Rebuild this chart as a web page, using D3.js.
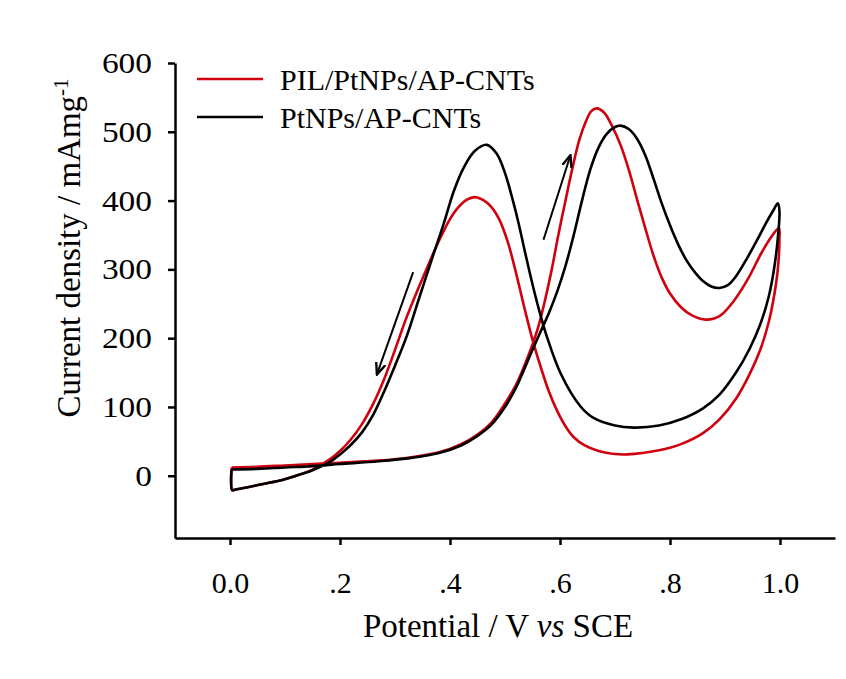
<!DOCTYPE html>
<html>
<head>
<meta charset="utf-8">
<script src="https://cdn.jsdelivr.net/npm/d3@7"></script>
<style>
body { margin: 0; background: #fff; }
text { font-family: "Liberation Serif", "Times New Roman", serif; fill: #000; }
</style>
</head>
<body>
<script>
var width = 846;
var height = 679;

var seriesNames = ["PIL/PtNPs/AP-CNTs", "PtNPs/AP-CNTs"];
var seriesColors = ["#d0000f", "#000000"];

// PIL/PtNPs/AP-CNTs : forward scan then reverse scan (potential, current density)
var pilE = [0.003, 0.05, 0.10, 0.15, 0.20, 0.27, 0.33, 0.38, 0.42, 0.45, 0.475, 0.50, 0.52, 0.545, 0.56, 0.573, 0.585, 0.597, 0.61, 0.622, 0.635, 0.647, 0.657, 0.667, 0.68, 0.695, 0.71, 0.725, 0.74, 0.755, 0.77, 0.785, 0.80, 0.82, 0.84, 0.865, 0.89, 0.915, 0.941, 0.965, 0.985, 0.998,
            0.999, 0.996, 0.99, 0.98, 0.965, 0.945, 0.92, 0.89, 0.86, 0.82, 0.78, 0.722, 0.695, 0.67, 0.645, 0.625, 0.61, 0.595, 0.58, 0.565, 0.55, 0.535, 0.52, 0.505, 0.49, 0.475, 0.46, 0.445,
            0.43, 0.415, 0.40, 0.385, 0.37, 0.355, 0.34, 0.32, 0.30, 0.28, 0.26, 0.24, 0.22, 0.20, 0.18, 0.15, 0.12, 0.091, 0.06, 0.03, 0.01, 0.004, 0.002, 0.003];
var pilJ = [12, 13, 15, 17, 19, 22, 27, 34, 46, 60, 77, 105, 132, 180, 215, 256, 300, 350, 400, 445, 488, 515, 530, 534, 528, 508, 481, 445, 402, 360, 320, 288, 265, 245, 233, 227, 232, 253, 285, 322, 348, 360,
            345, 300, 265, 225, 185, 148, 112, 82, 62, 46, 37, 31, 32, 36, 44, 56, 72, 94, 122, 158, 198, 245, 295, 340, 372, 391, 401, 405,
            401, 390, 373, 350, 324, 296, 268, 228, 183, 140, 104, 75, 53, 36, 23, 9, 0, -7, -12, -17, -20, -21, -5, 12];

// PtNPs/AP-CNTs
var ptE = [0.003, 0.05, 0.10, 0.15, 0.20, 0.27, 0.33, 0.38, 0.42, 0.45, 0.475, 0.50, 0.52, 0.535, 0.55, 0.565, 0.58, 0.595, 0.61, 0.625, 0.64, 0.655, 0.67, 0.685, 0.70, 0.71, 0.725, 0.74, 0.755, 0.77, 0.785, 0.80, 0.815, 0.83, 0.845, 0.86, 0.875, 0.89, 0.905, 0.92, 0.94, 0.96, 0.975, 0.988, 0.996,
           0.999, 0.996, 0.99, 0.98, 0.965, 0.945, 0.92, 0.89, 0.86, 0.82, 0.78, 0.734, 0.70, 0.661, 0.637, 0.601, 0.575, 0.565, 0.555, 0.545, 0.535, 0.525, 0.515, 0.50, 0.485, 0.467,
           0.445, 0.425, 0.407, 0.388, 0.365, 0.343, 0.32, 0.30, 0.28, 0.26, 0.24, 0.22, 0.20, 0.182, 0.15, 0.12, 0.091, 0.06, 0.03, 0.01, 0.004, 0.002, 0.003];
var ptJ = [9, 10, 12, 14, 17, 21, 26, 33, 44, 58, 74, 100, 128, 155, 183, 210, 237, 268, 305, 350, 400, 445, 477, 497, 507, 509, 504, 490, 466, 432, 396, 364, 336, 313, 296, 283, 275, 273, 277, 290, 316, 345, 368, 386, 396,
           385, 345, 305, 262, 222, 185, 150, 118, 98, 82, 73, 70, 73, 84, 101, 149, 205, 232, 262, 295, 330, 366, 398, 440, 468, 481,
           472, 448, 414, 365, 310, 256, 200, 160, 122, 88, 63, 45, 31, 20, 8, 0, -7, -12, -17, -20, -21, -6, 9];

var xTickVals = [0, 0.2, 0.4, 0.6, 0.8, 1.0];
var xTickLabels = ["0.0", ".2", ".4", ".6", ".8", "1.0"];
var yTickVals = [0, 100, 200, 300, 400, 500, 600];

// scan direction arrows [E, J]
var arrowFrom = [[0.57, 343], [0.333, 296]];
var arrowTo = [[0.619, 466], [0.267, 147]];

var svg = d3.select("body")
    .append("svg")
    .attr("width", width)
    .attr("height", height);

var x = d3.scaleLinear().domain([-0.1, 1.1]).range([175, 835]);
var y = d3.scaleLinear().domain([-90.5, 600]).range([538, 63]);

var xAxis = d3.axisBottom(x)
    .tickValues(xTickVals)
    .tickFormat(function(d, i) { return xTickLabels[i]; })
    .tickSize(7)
    .tickSizeOuter(0)
    .tickPadding(27);
var yAxis = d3.axisLeft(y)
    .tickValues(yTickVals)
    .tickSize(7)
    .tickSizeOuter(0)
    .tickPadding(16);

var gx = svg.append("g").attr("transform", "translate(0," + y.range()[0] + ")").call(xAxis);
var gy = svg.append("g").attr("transform", "translate(" + x.range()[0] + ",0)").call(yAxis);

[gx, gy].forEach(function(g) {
  g.selectAll("path, line").attr("stroke", "#000").attr("stroke-width", 2.5);
  g.selectAll("text")
      .style("font-family", '"Liberation Serif", "Times New Roman", serif')
      .style("font-size", "30px")
      .attr("fill", "#000");
});
// y labels are drawn wider in the original
gy.selectAll("text")
    .attr("textLength", function(d) { return String(d).length * 16.7; })
    .attr("lengthAdjust", "spacingAndGlyphs");

var line = d3.line()
    .x(function(d) { return x(d[0]); })
    .y(function(d) { return y(d[1]); })
    .curve(d3.curveCatmullRom.alpha(0.5));

var curves = [d3.zip(pilE, pilJ), d3.zip(ptE, ptJ)];

svg.selectAll(".cv")
    .data(curves)
    .enter().append("path")
    .attr("class", "cv")
    .attr("fill", "none")
    .attr("stroke", function(d, i) { return seriesColors[i]; })
    .attr("stroke-width", 2.6)
    .attr("stroke-linejoin", "round")
    .attr("d", line);

// arrows
svg.append("defs").append("marker")
    .attr("id", "head")
    .attr("viewBox", "0 0 12 10")
    .attr("refX", 11)
    .attr("refY", 5)
    .attr("markerWidth", 13)
    .attr("markerHeight", 11)
    .attr("markerUnits", "userSpaceOnUse")
    .attr("orient", "auto")
  .append("path")
    .attr("d", "M0,0.5 L11,5 L0,9.5")
    .attr("fill", "none")
    .attr("stroke", "#000")
    .attr("stroke-width", 2.2);

svg.selectAll(".arrow")
    .data(arrowFrom)
    .enter().append("line")
    .attr("class", "arrow")
    .attr("x1", function(d) { return x(d[0]); })
    .attr("y1", function(d) { return y(d[1]); })
    .attr("x2", function(d, i) { return x(arrowTo[i][0]); })
    .attr("y2", function(d, i) { return y(arrowTo[i][1]); })
    .attr("stroke", "#000")
    .attr("stroke-width", 2)
    .attr("marker-end", "url(#head)");

// legend
var legend = svg.selectAll(".legend")
    .data(seriesNames)
    .enter().append("g")
    .attr("class", "legend")
    .attr("transform", function(d, i) { return "translate(197," + (79 + i * 38) + ")"; });

legend.append("line")
    .attr("x1", 0)
    .attr("x2", 66)
    .attr("stroke", function(d, i) { return seriesColors[i]; })
    .attr("stroke-width", 2.6);

legend.append("text")
    .attr("x", 83)
    .attr("dy", "0.35em")
    .style("font-size", "30px")
    .text(function(d) { return d; });

// axis titles
var xt = svg.append("text")
    .attr("x", 498)
    .attr("y", 637)
    .attr("text-anchor", "middle")
    .style("font-size", "33px");
xt.append("tspan").text("Potential / V ");
xt.append("tspan").style("font-style", "italic").text("vs");
xt.append("tspan").text(" SCE");

var yt = svg.append("text")
    .attr("transform", "translate(80,248) rotate(-90)")
    .attr("text-anchor", "middle")
    .style("font-size", "33px");
yt.append("tspan").text("Current density / mAmg");
yt.append("tspan").attr("dy", "-0.55em").style("font-size", "21px").text("-1");
</script>
</body>
</html>
